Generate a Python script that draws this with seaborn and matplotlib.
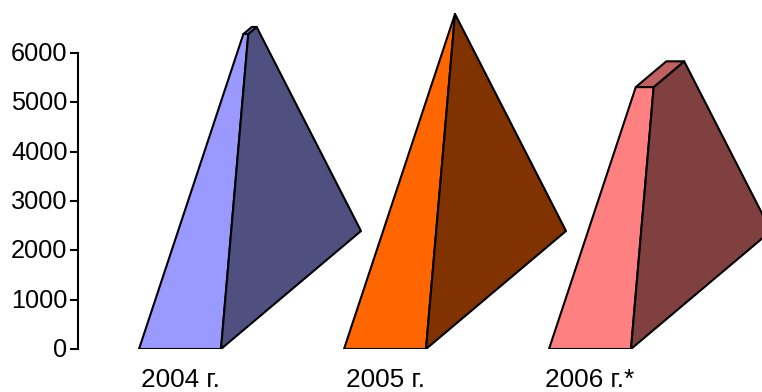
import matplotlib
matplotlib.use('Agg')
import matplotlib.pyplot as plt
from matplotlib.transforms import ScaledTranslation
import seaborn as sns

years = ['2004 г.', '2005 г.', '2006 г.*']
values = [6385, 6790, 5310]
front_colors = ['#9999FF', '#FF6600', '#FF8080']
side_colors = ['#4F4F80', '#803300', '#804040']
top_colors = ['#7A7AC8', '#C04D00', '#C06060']
y_ticks = [0, 1000, 2000, 3000, 4000, 5000, 6000]

sns.set_style('white')
plt.rcParams['font.family'] = ['Liberation Sans', 'DejaVu Sans']

W, H = 762, 392
fig = plt.figure(figsize=(W / 100, H / 100), dpi=100)
ax = fig.add_axes([78 / W, (H - 349) / H, (W - 78) / W, 349 / H])

# bars only give the positions, the pyramids are built on top of them
sns.barplot(x=years, y=values, width=0.4, ax=ax)
bars = list(ax.patches)

# depth of the 3d base and height of the full pyramid
depth_x = 0.683
depth_y = 2392
apex_value = max(values)


def shrink(x, y, cx, t):
    return x + t * (cx - x), y + t * (apex_value - y)


for bar, front_c, side_c, top_c in zip(bars, front_colors, side_colors, top_colors):
    bar.set_visible(False)
    xl = bar.get_x()
    xr = xl + bar.get_width()
    t = bar.get_height() / apex_value
    cx = (xl + xr + depth_x) / 2

    fl = shrink(xl, 0, cx, t)
    fr = shrink(xr, 0, cx, t)
    br = shrink(xr + depth_x, depth_y, cx, t)
    bl = shrink(xl + depth_x, depth_y, cx, t)

    style = dict(edgecolor='black', linewidth=1.5, joinstyle='round')
    ax.fill([xl, xr, fr[0], fl[0]], [0, 0, fr[1], fl[1]], facecolor=front_c, **style)
    ax.fill([xr, xr + depth_x, br[0], fr[0]], [0, depth_y, br[1], fr[1]], facecolor=side_c, **style)
    ax.fill([fl[0], fr[0], br[0], bl[0]], [fl[1], fr[1], br[1], bl[1]], facecolor=top_c, **style)

ax.set_xlim(-102 / 205, 582 / 205)
ax.set_ylim(0, 349 * 6000 / 296)
ax.set_yticks(y_ticks)
ax.set_xlabel('')
ax.set_ylabel('')
ax.grid(False)
ax.patch.set_alpha(0)

sns.despine(ax=ax, top=True, right=True, bottom=True, left=False)
ax.spines['left'].set_bounds(0, 6000)
ax.spines['left'].set_color('black')
ax.spines['left'].set_linewidth(1.5)
ax.tick_params(axis='y', left=True, length=6, width=1.5, color='black', pad=1.5, labelsize=18.2, labelcolor='black')
ax.tick_params(axis='x', bottom=False, length=0, pad=14, labelsize=18.8, labelcolor='black')
nudge = ScaledTranslation(0, 1.5 / 100, fig.dpi_scale_trans)
for label in ax.get_yticklabels():
    label.set_transform(label.get_transform() + nudge)

fig.savefig('out.png', dpi=100)
